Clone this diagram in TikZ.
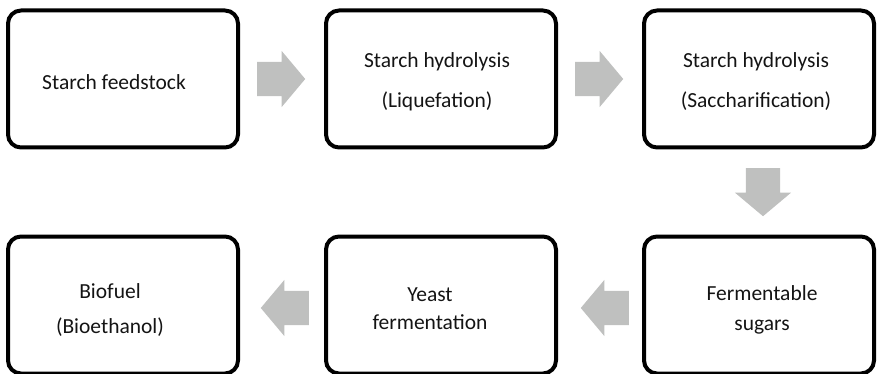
\documentclass[tikz,border=0pt]{standalone}
\usepackage{fontspec}
\setmainfont{Carlito}
\usetikzlibrary{shapes.arrows,calc}
\definecolor{arrowgray}{RGB}{191,192,191}

\begin{document}
\begin{tikzpicture}[x=1pt,y=-1pt]
  \tikzstyle{box} = [draw, line width=4pt, rounded corners=13pt, minimum width=230pt, minimum height=137pt, inner sep=0pt]
  \tikzstyle{lbl} = [font=\fontsize{21.5}{26}\selectfont, align=center, text=black!92]
  \tikzstyle{arr} = [single arrow, fill=arrowgray, inner xsep=0pt, inner ysep=17pt, minimum height=48pt, single arrow head extend=11pt, single arrow tip angle=100]
  \useasboundingbox (0,0) rectangle (877,374);

  \node[box](b1) at (123,79){};
  \node[box](b2) at (441,79){};
  \node[box](b3) at (759,79){};
  \node[box](b4) at (123,305){};
  \node[box](b5) at (441,305){};
  \node[box](b6) at (759,305){};

  \node[lbl](t1) at (114,82){Starch feedstock};
  \node[lbl](t2) at (437,82){Starch hydrolysis\\[14pt](Liquefation)};
  \node[lbl](t3) at (756,82){Starch hydrolysis\\[14pt](Saccharification)};
  \node[lbl](t4) at (110,310){Biofuel\\[9pt](Bioethanol)};
  \node[lbl](t5) at (430,309){Yeast\\[2pt]fermentation};
  \node[lbl](t6) at (762,310){Fermentable\\[4pt]sugars};

  \node[arr](a1) at ([xshift=-8pt]$(b1.east)!0.5!(b2.west)$){};
  \node[arr](a2) at ([xshift=-8pt]$(b2.east)!0.5!(b3.west)$){};
  \node[arr, shape border rotate=270, inner xsep=17pt, inner ysep=0pt](a3) at ([xshift=4pt,yshift=7pt]$(b3.south)!0.5!(b6.north)$){};
  \node[arr, shape border rotate=180](a4) at ([xshift=12pt,yshift=-3pt]$(b6.west)!0.5!(b5.east)$){};
  \node[arr, shape border rotate=180](a5) at ([xshift=10pt,yshift=-3pt]$(b5.west)!0.5!(b4.east)$){};

\end{tikzpicture}
\end{document}
